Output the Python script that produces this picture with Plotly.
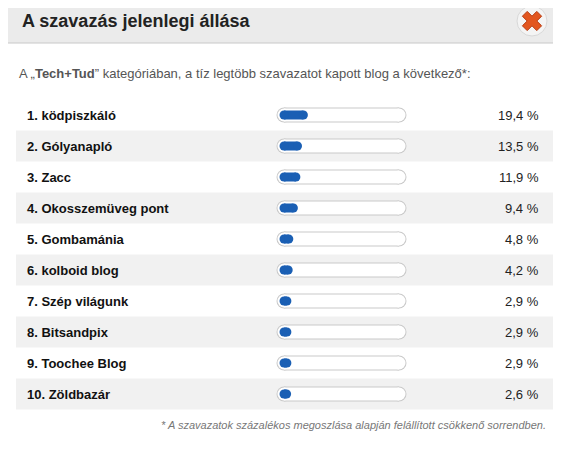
import plotly.graph_objects as go

blogok = ["1. ködpiszkáló", "2. Gólyanapló", "3. Zacc", "4. Okosszemüveg pont",
          "5. Gombamánia", "6. kolboid blog", "7. Szép világunk", "8. Bitsandpix",
          "9. Toochee Blog", "10. Zöldbazár"]
szazalek = [19.4, 13.5, 11.9, 9.4, 4.8, 4.2, 2.9, 2.9, 2.9, 2.6]
cimkek = ["19,4 %", "13,5 %", "11,9 %", "9,4 %", "4,8 %", "4,2 %", "2,9 %", "2,9 %", "2,9 %", "2,6 %"]

W, H = 561, 451
PAD = 8  # a böngésző body margója
FONT = "Liberation Sans, Arial, sans-serif"
sor0, sorkoz = 115, 31
sav_x0, sav_x1 = 284, 399

fig = go.Figure()
shapes = [
    dict(type="rect", x0=0, x1=W, y0=0, y1=43, fillcolor="#ebebeb", line_width=0, layer="below"),
    dict(type="line", x0=0, x1=W, y0=43, y1=43, line=dict(color="#c8c8c8", width=1)),
]
ys = [sor0 + sorkoz * i for i in range(len(blogok))]
for i, y in enumerate(ys):
    if i % 2 == 1:
        shapes.append(dict(type="rect", x0=16, x1=556, y0=y - 15.5, y1=y + 15.5,
                           fillcolor="#f1f1f1", line_width=0, layer="below"))

# sav keret
for szin, vast in (("#c9c9c9", 15), ("white", 13)):
    for y in ys:
        fig.add_trace(go.Scatter(x=[sav_x0, sav_x1], y=[y, y], mode="lines+markers",
                                 line=dict(color=szin, width=vast),
                                 marker=dict(color=szin, size=vast, line_width=0),
                                 hoverinfo="skip", showlegend=False))
# kitöltés
for y, v in zip(ys, szazalek):
    x1 = sav_x0 + v * 1.0
    fig.add_trace(go.Scatter(x=[sav_x0, x1], y=[y, y], mode="lines+markers",
                             line=dict(color="#1a5fb4", width=9),
                             marker=dict(color="#1a5fb4", size=9, line_width=0),
                             hoverinfo="skip", showlegend=False))

# bezáró gomb
fig.add_trace(go.Scatter(x=[532], y=[21], mode="markers",
                         marker=dict(symbol="circle", size=30, color="#f4f4f4",
                                     line=dict(color="#d8d8d8", width=1)),
                         hoverinfo="skip", showlegend=False))
fig.add_trace(go.Scatter(x=[532], y=[21], mode="markers",
                         marker=dict(symbol="x", size=17, color="#e2561f",
                                     line=dict(color="#b83a10", width=1)),
                         hoverinfo="skip", showlegend=False))

ann = [
    dict(x=20, y=21, text="<b>A szavazás jelenlegi állása</b>", xanchor="left",
         font=dict(size=18, color="#222")),
    dict(x=17, y=73, text="A „<b>Tech+Tud</b>” kategóriában, a tíz legtöbb szavazatot kapott blog a következő*:",
         xanchor="left", font=dict(size=13, color="#555")),
    dict(x=548, y=425, text="<i>* A szavazatok százalékos megoszlása alapján felállított csökkenő sorrendben.</i>",
         xanchor="right", font=dict(size=11, color="#777")),
]
for y, b, c in zip(ys, blogok, cimkek):
    ann.append(dict(x=25, y=y, text="<b>" + b + "</b>", xanchor="left", font=dict(size=13, color="#111")))
    ann.append(dict(x=541, y=y, text=c, xanchor="right", font=dict(size=13, color="#222")))
for a in ann:
    a.update(showarrow=False, yanchor="middle", xref="x", yref="y")

fig.update_layout(
    width=W - 2 * PAD, height=H - 2 * PAD, margin=dict(l=0, r=0, t=0, b=0),
    paper_bgcolor="white", plot_bgcolor="white",
    xaxis=dict(range=[PAD, W - PAD], visible=False, fixedrange=True),
    yaxis=dict(range=[H - PAD, PAD], visible=False, fixedrange=True),
    shapes=shapes, annotations=ann, font=dict(family=FONT),
)
fig.write_html("out.html")
